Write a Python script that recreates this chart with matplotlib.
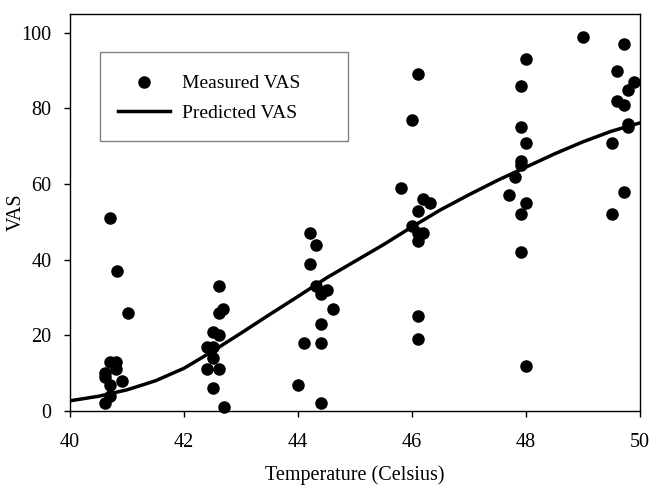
import matplotlib as mpl
mpl.use("Agg")
import matplotlib.pyplot as plt
from matplotlib.patches import Rectangle

# measured VAS
temp = [40.82, 41.01, 40.70, 40.70, 40.81, 40.61, 40.81, 40.61, 40.70, 40.91, 40.70, 40.61,
        42.61, 42.69, 42.61, 42.50, 42.61, 42.41, 42.50, 42.50, 42.41, 42.61, 42.50, 42.70,
        44.21, 44.31, 44.21, 44.31, 44.40, 44.51, 44.61, 44.40, 44.10, 44.40, 44.00, 44.40,
        46.11, 46.00, 45.80, 46.20, 46.32, 46.11, 46.00, 46.11, 46.20, 46.11, 46.11, 46.11,
        48.00, 47.91, 47.91, 48.00, 47.91, 47.91, 47.81, 47.70, 48.00, 47.91, 47.91, 48.00,
        49.00, 49.71, 49.60, 49.89, 49.79, 49.60, 49.71, 49.79, 49.79, 49.50, 49.71, 49.50]
vas = [37, 26, 51, 13, 13, 10, 11, 9, 7, 8, 4, 2,
       33, 27, 26, 21, 20, 17, 17, 14, 11, 11, 6, 1,
       47, 44, 39, 33, 31, 32, 27, 23, 18, 18, 7, 2,
       89, 77, 59, 56, 55, 53, 49, 47, 47, 45, 25, 19,
       93, 86, 75, 71, 66, 65, 62, 57, 55, 52, 42, 12,
       99, 97, 90, 87, 85, 82, 81, 76, 75, 71, 58, 52]

# predicted curve
pred_t = [40, 40.5, 41, 41.5, 42, 42.5, 43, 43.5, 44, 44.5, 45,
          45.5, 46, 46.5, 47, 47.5, 48, 48.5, 49, 49.5, 50]
pred_vas = [2.7, 3.9, 5.6, 8.0, 11.3, 15.8, 20.6, 25.5, 30.3, 35.2, 39.6,
            44.0, 48.7, 53.2, 57.2, 61.0, 64.5, 68.0, 71.2, 74.0, 76.2]

plt.rcParams['font.family'] = ['Liberation Serif', 'DejaVu Serif']

fig = plt.figure(figsize=(6.5, 4.86), dpi=100)
ax = fig.add_axes([0.1077, 0.1543, 0.877, 0.817])

ax.plot(temp, vas, 'o', color='black', markersize=8, label='Measured VAS', clip_on=False)
ax.plot(pred_t, pred_vas, '-', color='black', linewidth=2.5, label='Predicted VAS')

ax.set_xlim(40, 50)
ax.set_ylim(0, 105)
ax.set_xticks([40, 42, 44, 46, 48, 50])
ax.set_yticks([0, 20, 40, 60, 80, 100])
ax.tick_params(direction='out', length=4.5, width=1, labelsize=14.5, pad=9)
ax.tick_params(axis='x', pad=11)
ax.set_xlabel('Temperature (Celsius)', fontsize=14.5, labelpad=10)
ax.set_ylabel('VAS', fontsize=14.5)
ax.yaxis.set_label_coords(-0.077, 0.5)
for s in ax.spines.values():
    s.set_linewidth(1)

# legend frame drawn separately so its size matches the original box
ax.add_patch(Rectangle((0.0526, 0.681), 0.435, 0.224, transform=ax.transAxes,
                       facecolor='white', edgecolor='gray', linewidth=1, zorder=3))
leg = ax.legend(loc='upper left', bbox_to_anchor=(0.084, 0.847), fontsize=14,
                frameon=False, borderpad=0, borderaxespad=0,
                handlelength=2.7, handletextpad=0.6, labelspacing=0.6)
leg.set_zorder(4)

plt.savefig('out.png')
